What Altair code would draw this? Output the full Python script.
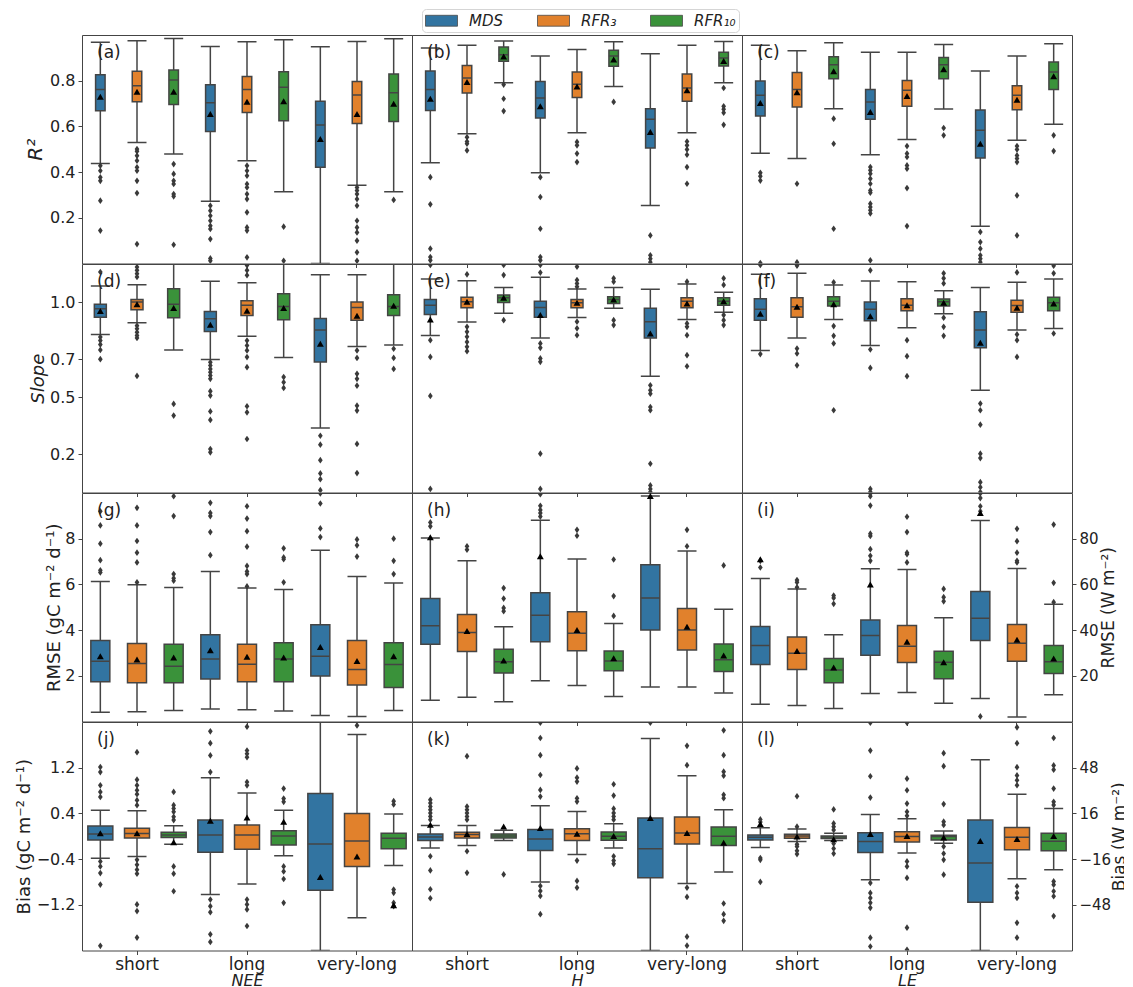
import altair as alt
import pandas as pd

FONT = "DejaVu Sans"
LINE = "#444444"

GAPS = ["short", "long", "very-long"]
METHODS = ["MDS", "RFR₃", "RFR₁₀"]
COLORS = ["#3274A1", "#E1812C", "#3A923A"]
VARS = ["NEE", "H", "LE"]
SLOTS = [g + "|" + m for g in GAPS for m in METHODS]
LABELS = [["(a)", "(b)", "(c)"], ["(d)", "(e)", "(f)"], ["(g)", "(h)", "(i)"], ["(j)", "(k)", "(l)"]]

# box stats per slot: (whisker_low, q1, median, q3, whisker_high, mean)
# slot order: short MDS, short RFR3, short RFR10, long MDS, ..., very-long RFR10
R2_NEE = [(0.438, 0.669, 0.762, 0.826, 0.968, 0.730), (0.530, 0.708, 0.778, 0.841, 0.975, 0.752),
          (0.479, 0.696, 0.803, 0.847, 0.985, 0.752), (0.272, 0.578, 0.704, 0.782, 0.950, 0.654),
          (0.450, 0.661, 0.762, 0.818, 0.971, 0.708), (0.314, 0.625, 0.771, 0.839, 0.979, 0.710),
          (0.0, 0.421, 0.606, 0.710, 0.949, 0.545), (0.342, 0.613, 0.737, 0.797, 0.972, 0.654),
          (0.314, 0.621, 0.747, 0.829, 0.984, 0.699)]
R2_NEE_OUT = [[0.428, 0.406, 0.377, 0.362, 0.275, 0.144],
              [0.501, 0.491, 0.472, 0.450, 0.421, 0.406, 0.362, 0.308, 0.085],
              [0.435, 0.392, 0.362, 0.348, 0.304, 0.294, 0.082],
              [0.253, 0.231, 0.209, 0.187, 0.165, 0.151, 0.107, 0.022, 0.012],
              [0.428, 0.406, 0.384, 0.348, 0.333, 0.304, 0.282, 0.224, 0.158, 0.144, 0.027],
              [0.161, 0.012], [],
              [0.333, 0.319, 0.304, 0.282, 0.253, 0.187, 0.158, 0.136, 0.100, 0.049, 0.012],
              [0.278]]
R2_H = [(0.441, 0.670, 0.761, 0.842, 0.943, 0.721), (0.568, 0.746, 0.812, 0.866, 0.955, 0.794),
        (0.791, 0.885, 0.914, 0.947, 0.974, 0.906), (0.397, 0.637, 0.724, 0.797, 0.908, 0.688),
        (0.572, 0.727, 0.785, 0.838, 0.936, 0.775), (0.775, 0.863, 0.908, 0.933, 0.971, 0.893),
        (0.254, 0.505, 0.631, 0.677, 0.918, 0.575), (0.572, 0.710, 0.768, 0.829, 0.955, 0.758),
        (0.791, 0.864, 0.899, 0.925, 0.972, 0.886)]
R2_H_OUT = [[0.378, 0.259, 0.065, 0.028, 0.014], [0.553, 0.534, 0.524, 0.495], [0.783, 0.721, 0.667],
            [0.378, 0.291, 0.152, 0.028, 0.014], [0.532, 0.517, 0.481, 0.444], [0.707],
            [0.123, 0.036, 0.021, 0.006], [0.534, 0.517, 0.499, 0.476, 0.422, 0.349],
            [0.768, 0.688, 0.675, 0.660, 0.607]]
R2_LE = [(0.483, 0.645, 0.736, 0.799, 0.955, 0.702), (0.459, 0.685, 0.761, 0.836, 0.931, 0.750),
         (0.677, 0.809, 0.870, 0.905, 0.966, 0.841), (0.476, 0.631, 0.707, 0.761, 0.925, 0.663),
         (0.543, 0.688, 0.758, 0.801, 0.925, 0.733), (0.676, 0.809, 0.870, 0.901, 0.958, 0.850),
         (0.163, 0.462, 0.583, 0.672, 0.842, 0.524), (0.539, 0.673, 0.736, 0.778, 0.908, 0.717),
         (0.609, 0.762, 0.838, 0.882, 0.962, 0.820)]
R2_LE_OUT = [[0.397, 0.382, 0.363, 0.002], [0.349, 0.005], [0.634, 0.524, 0.152],
             [0.422, 0.408, 0.393, 0.371, 0.349, 0.320, 0.310, 0.262, 0.247, 0.233, 0.219, 0.014],
             [0.514, 0.481, 0.466, 0.429, 0.415, 0.330, 0.164], [0.593, 0.561],
             [0.138, 0.094, 0.065, 0.036, 0.021, 0.006],
             [0.514, 0.499, 0.473, 0.459, 0.444, 0.298, 0.123], [0.561, 0.492]]

SLOPE_NEE = [(0.830, 0.921, 0.965, 0.988, 1.084, 0.953), (0.891, 0.960, 1.000, 1.014, 1.091, 0.988),
             (0.748, 0.918, 0.988, 1.070, 1.200, 0.969), (0.698, 0.846, 0.912, 0.951, 1.109, 0.881),
             (0.821, 0.930, 0.983, 1.007, 1.102, 0.954), (0.709, 0.907, 0.977, 1.044, 1.200, 0.969),
             (0.339, 0.685, 0.853, 0.914, 1.144, 0.781), (0.767, 0.905, 0.972, 1.000, 1.144, 0.928),
             (0.774, 0.930, 0.977, 1.039, 1.200, 0.981)]
SLOPE_NEE_OUT = [[0.816, 0.798, 0.777, 0.749, 0.700, 1.158],
                 [0.876, 0.860, 0.842, 0.825, 0.812, 0.612, 1.132, 1.149, 1.167, 1.184],
                 [0.465, 0.404],
                 [0.684, 0.667, 0.649, 0.632, 0.614, 0.597, 0.532, 0.509, 0.426, 0.381, 0.228, 0.211],
                 [0.798, 0.772, 0.746, 0.711, 0.658, 0.453, 0.421, 0.281, 1.141, 1.167, 1.193],
                 [0.606, 0.579, 0.549],
                 [0.298, 0.251, 0.170, 0.100, 0.070, 0.012],
                 [0.746, 0.707, 0.623, 0.597, 0.561, 0.456, 0.430, 0.255, 0.102],
                 [0.755, 0.707, 0.649]]
SLOPE_H = [(0.825, 0.935, 0.984, 1.014, 1.121, 0.909), (0.895, 0.970, 1.002, 1.026, 1.112, 1.002),
           (0.942, 0.998, 1.023, 1.037, 1.076, 1.023), (0.812, 0.921, 0.972, 1.005, 1.130, 0.932),
           (0.919, 0.970, 0.996, 1.014, 1.069, 0.996), (0.967, 0.993, 1.014, 1.028, 1.076, 1.014),
           (0.610, 0.812, 0.897, 0.967, 1.067, 0.835), (0.909, 0.970, 1.005, 1.023, 1.095, 0.993),
           (0.947, 0.984, 1.005, 1.023, 1.051, 1.005)]
SLOPE_H_OUT = [[0.800, 0.712, 0.507, 0.019, 1.195], [0.870, 0.844, 0.818, 0.791, 0.765, 0.742, 1.146],
               [0.905, 1.142, 1.195], [0.783, 0.760, 0.704, 0.686, 0.204, 0.019, 1.155, 1.195],
               [0.897, 0.862, 0.826, 1.116, 1.098, 1.081, 1.186], [0.905, 0.879, 1.125, 1.107],
               [0.563, 0.537, 0.519, 0.449, 0.432, 0.151, 0.037, 0.019, 0.002],
               [0.888, 0.870, 0.826, 0.721, 0.663, 1.107], [0.932, 0.905, 0.879, 1.125, 1.090]]
SLOPE_LE = [(0.746, 0.904, 0.963, 1.018, 1.146, 0.939), (0.811, 0.921, 0.976, 1.023, 1.151, 0.976),
            (0.909, 0.979, 1.005, 1.028, 1.090, 0.988), (0.772, 0.902, 0.962, 1.000, 1.111, 0.926),
            (0.865, 0.954, 0.984, 1.018, 1.107, 0.984), (0.939, 0.979, 1.002, 1.016, 1.060, 0.996),
            (0.537, 0.760, 0.853, 0.949, 1.076, 0.786), (0.854, 0.946, 0.982, 1.009, 1.104, 0.970),
            (0.861, 0.954, 0.996, 1.026, 1.121, 0.993)]
SLOPE_LE_OUT = [[0.727, 1.195], [0.756, 0.730, 0.668, 1.191], [0.874, 0.823, 0.783, 0.432, 1.104],
                [0.751, 0.654, 0.019, 0.002, 1.167], [0.800, 0.716, 0.611],
                [0.918, 0.870, 0.823, 1.151, 1.125, 1.098],
                [0.467, 0.432, 0.356, 0.204, 0.181, 0.054, 0.028, 0.002],
                [0.830, 0.800, 0.712, 1.156], [0.835, 1.191, 1.151]]

RMSE_NEE = [(0.41, 1.74, 2.64, 3.55, 6.13, 2.86), (0.43, 1.70, 2.54, 3.41, 5.98, 2.71),
            (0.48, 1.70, 2.42, 3.38, 5.86, 2.80), (0.55, 1.86, 2.73, 3.80, 6.57, 3.12),
            (0.51, 1.74, 2.51, 3.38, 5.84, 2.83), (0.46, 1.74, 2.74, 3.45, 5.78, 2.80),
            (0.26, 1.99, 2.86, 4.23, 7.49, 3.26), (0.22, 1.60, 2.28, 3.55, 6.35, 2.65),
            (0.48, 1.49, 2.49, 3.45, 6.06, 2.86)]
RMSE_NEE_OUT = [[6.52, 6.62, 7.06, 7.78, 8.58, 9.20], [6.09, 6.96, 7.39, 7.90, 8.58, 9.35],
                [6.16, 6.27, 6.45, 8.99, 9.86], [7.28, 8.29, 8.99, 9.13, 9.57],
                [5.91, 6.45, 6.57, 6.81, 7.65, 8.33, 8.88, 9.42], [6.09, 7.10, 7.18, 7.58],
                [8.07, 8.45, 9.54, 9.98], [7.22, 7.71, 7.97], [6.45, 7.03, 8.0]]
RMSE_H = [(9.3, 33.8, 41.9, 53.8, 80.3, 80.6), (10.6, 30.6, 39.0, 46.8, 70.4, 39.6),
          (8.6, 21.2, 26.2, 31.6, 41.5, 26.7), (17.8, 34.9, 46.5, 56.4, 88.1, 72.3),
          (15.8, 31.0, 38.6, 48.0, 71.1, 40.0), (10.9, 22.2, 26.5, 30.9, 42.9, 27.7),
          (15.1, 40.0, 54.1, 68.6, 98.7, 98.7), (15.1, 31.3, 40.0, 49.4, 74.6, 41.5),
          (12.5, 21.9, 27.0, 33.9, 49.1, 28.9)]
RMSE_H_OUT = [[87.1, 85.4], [76.7, 75.2], [58.4, 53.8, 49.7, 48.3], [94.4, 92.6, 91.2, 89.7, 99.5],
              [83.9, 81.3], [70.9, 54.9, 46.2], [], [83.9, 76.7], [68.3]]
RMSE_LE = [(7.5, 24.9, 33.3, 41.6, 62.6, 71.0), (7.0, 22.8, 29.9, 37.0, 58.0, 30.9),
           (5.7, 17.0, 22.5, 27.6, 38.0, 23.6), (12.3, 29.0, 37.6, 44.4, 66.8, 60.0),
           (12.7, 25.8, 32.9, 42.0, 66.5, 34.9), (8.0, 18.7, 25.9, 30.7, 45.4, 25.9),
           (10.1, 35.5, 45.2, 56.9, 88.0, 91.3), (2.0, 26.4, 34.2, 42.5, 67.0, 35.8),
           (11.7, 21.0, 26.1, 33.3, 51.3, 27.6)]
RMSE_LE_OUT = [[70.3, 67.4], [61.9, 60.9, 58.7], [55.1, 54.1, 51.5],
               [70.3, 72.5, 75.4, 81.2, 82.2, 94.5, 98.6, 99.8], [69.6, 73.2, 73.9, 82.9, 89.6],
               [58.0, 54.4, 52.6], [92.0, 94.2, 97.8, 99.8, 2.2], [69.6, 70.3, 73.9, 78.9, 84.3],
               [86.2, 60.7, 52.2]]

BIAS_NEE = [(-0.383, -0.064, 0.040, 0.179, 0.457, 0.052), (-0.354, -0.030, 0.050, 0.140, 0.447, 0.052),
            (-0.139, -0.024, 0.023, 0.069, 0.185, -0.104), (-1.021, -0.279, 0.023, 0.283, 1.026, 0.271),
            (-0.835, -0.227, 0.023, 0.197, 0.759, 0.330), (-0.342, -0.151, 0.005, 0.098, 0.457, 0.255),
            (-2.0, -0.946, -0.134, 0.747, 2.0, -0.713), (-1.426, -0.528, -0.081, 0.399, 1.779, -0.354),
            (-0.511, -0.221, -0.035, 0.052, 0.388, -1.206)]
BIAS_NEE_OUT = [[1.211, 1.124, 0.892, 0.776, 0.689, -0.441, -0.528, -0.644, -0.846, -1.919],
                [1.472, 0.991, 0.892, 0.805, 0.736, 0.631, 0.544, -0.412, -0.499, -0.586, -0.656,
                 -1.194, -1.310, -1.774],
                [0.776, 0.544, 0.486, 0.428, 0.341, 0.283, -0.528, -0.656, -0.963],
                [1.837, 1.629, 1.414, 1.124, -1.108, -1.224, -1.329, -1.716, -1.850],
                [1.918, 1.501, 1.443, 1.385, 0.950, 0.892, -1.108, -1.194, -1.281, -1.571],
                [0.834, 0.660, 0.602, -0.528, -0.615, -0.748, -1.166],
                [], [1.94], [0.614, 0.556, -0.934, -0.991, -1.166, -1.224]]
BIAS_H = [(-8.2, -3.0, -0.5, 1.6, 7.6, 8.1), (-6.5, -1.2, 1.2, 2.8, 7.6, 1.6),
          (-3.0, -1.2, 0.2, 1.6, 4.2, 6.9), (-32.0, -10.0, -1.9, 4.8, 21.3, 5.8),
          (-12.8, -3.0, 1.8, 5.3, 17.4, 1.8), (-8.2, -2.8, 0.0, 3.0, 8.8, 0.2),
          (-80.0, -29.0, -8.8, 12.7, 68.4, 12.7), (-33.0, -5.4, 2.3, 13.4, 42.4, 2.3),
          (-25.1, -6.5, 0.0, 6.5, 18.5, -4.6)]
BIAS_H_OUT = [[25.5, 23.2, 20.8, 18.5, 16.2, 13.9, 11.6, -14.0, -23.9, -37.1, -43.4],
              [56.1, 20.8, 18.5, 16.2, 13.9, 11.6, -10.5, -25.6], [-26.7],
              [79.5, 68.8, 56.8, 42.9, 32.4, 27.8, -34.8, -38.3, -41.8, -54.6],
              [47.5, 41.0, 38.3, 26.6, 24.3, -17.0, -31.3, -36.0],
              [36.4, 28.5, 19.3, 16.2, 13.9, 11.6, -14.0, -17.0, -19.3],
              [79.5], [63.3, 49.8, -36.0, -42.5, -70.3, -76.6],
              [74.2, 56.8, 45.2, 42.4, 29.0, 26.6, -47.1, -54.6, -59.2]]
BIAS_LE = [(-7.9, -2.6, -0.7, 0.9, 6.0, 8.6), (-3.7, -1.4, 0.2, 1.4, 5.1, -0.2),
           (-3.0, -1.6, -0.5, 0.2, 2.1, -2.1), (-30.4, -11.4, -3.7, 2.5, 15.3, 1.6),
           (-11.8, -4.0, -0.2, 3.2, 12.3, 0.2), (-4.9, -2.6, -0.2, 0.7, 3.7, -0.9),
           (-80.0, -46.2, -18.8, 11.3, 53.6, -3.3), (-29.7, -9.5, -0.7, 6.2, 29.4, -1.9),
           (-23.4, -10.2, -3.5, 2.1, 19.4, 0.2)]
BIAS_LE_OUT = [[11.8, 9.9, -15.3, -16.5, -32.0], [28.0, 6.7, -5.6, -7.2, -10.2, -12.5],
               [18.8, 9.0, 6.7, 4.4, -5.1, -8.6, -12.1],
               [79.5, 60.0, 42.0, 27.1, -32.7, -39.7, -43.2, -46.6, -50.1, -71.0, -77.2],
               [79.5, 40.3, 32.2, 22.9, 17.1, 14.3, -17.6, -21.1, -29.2, -64.0, -79.5],
               [58.2, 49.1, 22.5, 10.2, 7.9, -7.2, -12.1, -16.5, -26.9], [],
               [76.3, 65.2, 48.4, 42.6, 39.2, 35.7, -35.0, -39.7, -43.2, -60.6, -71.0],
               [68.8, 49.6, 46.6, 33.4, 24.1, 21.8, -31.6, -33.9, -38.5, -42.0, -55.9]]

STATS = [[R2_NEE, R2_H, R2_LE], [SLOPE_NEE, SLOPE_H, SLOPE_LE],
         [RMSE_NEE, RMSE_H, RMSE_LE], [BIAS_NEE, BIAS_H, BIAS_LE]]
OUTS = [[R2_NEE_OUT, R2_H_OUT, R2_LE_OUT], [SLOPE_NEE_OUT, SLOPE_H_OUT, SLOPE_LE_OUT],
        [RMSE_NEE_OUT, RMSE_H_OUT, RMSE_LE_OUT], [BIAS_NEE_OUT, BIAS_H_OUT, BIAS_LE_OUT]]

# per-row axis settings
DOM_LEFT = [[0, 1.0], [0, 1.2], [0, 10], [-2, 2]]
DOM_RIGHT = [[0, 1.0], [0, 1.2], [0, 100], [-80, 80]]
TICKS_LEFT = [[0.2, 0.4, 0.6, 0.8], [0.2, 0.5, 0.7, 1.0], [2, 4, 6, 8], [-1.2, -0.4, 0.4, 1.2]]
TICKS_RIGHT = [None, None, [20, 40, 60, 80], [-48, -16, 16, 48]]
FMT_LEFT = [".1f", ".1f", "d", ".1f"]
TITLE_LEFT = ["R²", "Slope", "RMSE (gC m⁻² d⁻¹)", "Bias (gC m⁻² d⁻¹)"]
TITLE_RIGHT = [None, None, "RMSE (W m⁻²)", "Bias (W m⁻²)"]
STYLE_LEFT = ["italic", "italic", "normal", "normal"]
TSIZE_LEFT = [20, 18, 18, 18]
EXT_LEFT = [35, 33, 17, 47]
EXT_RIGHT = [0, 0, 26, 38]
TPAD_RIGHT = [0, 0, 2, 1]
BOXW = [9.5, 12, 19, 25]
CAPW = 19
PW, PH = 330, 228.5

COLOR_LEGEND = alt.Legend(
    title=None, orient="none", legendX=340, legendY=-26, direction="horizontal",
    symbolType="M-1,-0.68H3V0.68H-1Z", symbolSize=256, symbolStrokeColor="#4a4a4a",
    symbolStrokeWidth=0.8, symbolOpacity=1, labelFontSize=15, labelFontStyle="italic",
    labelFont=FONT, labelColor="#222", labelOffset=27, columnPadding=31,
    strokeColor="#d5d5d5", fillColor="white", cornerRadius=4, padding=3)

OUT_SHAPE = "M0,-1L0.7,0L0,1L-0.7,0Z"


def x_enc(r, c):
    kw = dict(values=[SLOTS[1], SLOTS[4], SLOTS[7]], labelExpr="split(datum.value, '|')[0]",
              ticks=True, tickSize=4, domain=False, labelAngle=0, grid=False)
    if r == 3:
        kw.update(labels=True, title=VARS[c], labelFontSize=17, titleFontSize=16,
                  titleFontStyle="italic", labelPadding=2, titlePadding=0)
    else:
        kw.update(labels=False, title=None)
    return alt.X("slot:N", scale=alt.Scale(domain=SLOTS, paddingInner=0, paddingOuter=0),
                 axis=alt.Axis(**kw))


def y_enc(field, r, c):
    dom = DOM_LEFT[r] if c == 0 else DOM_RIGHT[r]
    scale = alt.Scale(domain=dom, nice=False, zero=False)
    if c == 0:
        axis = alt.Axis(orient="left", values=TICKS_LEFT[r], format=FMT_LEFT[r],
                        title=TITLE_LEFT[r], titleFontStyle=STYLE_LEFT[r],
                        titleFontSize=TSIZE_LEFT[r], tickSize=4, labelFontSize=16,
                        labelPadding=3, minExtent=EXT_LEFT[r], maxExtent=EXT_LEFT[r],
                        titlePadding=2, grid=False, domain=False)
    elif c == 2 and TICKS_RIGHT[r] is not None:
        axis = alt.Axis(orient="right", values=TICKS_RIGHT[r], format="d",
                        title=TITLE_RIGHT[r], titleAngle=270, titleBaseline="top", tickSize=4,
                        titleFontSize=17, labelFontSize=15, labelPadding=3,
                        minExtent=EXT_RIGHT[r], maxExtent=EXT_RIGHT[r],
                        titlePadding=TPAD_RIGHT[r], grid=False, domain=False)
    else:
        axis = None
    return alt.Y(field + ":Q", scale=scale, axis=axis)


def make_panel(r, c):
    rows = []
    for i, (lo, q1, med, q3, hi, mn) in enumerate(STATS[r][c]):
        rows.append(dict(slot=SLOTS[i], method=METHODS[i % 3], lo=lo, q1=q1, med=med,
                         q3=q3, hi=hi, mean=mn))
    df = pd.DataFrame(rows)
    orows = [dict(slot=SLOTS[i], v=v) for i, lst in enumerate(OUTS[r][c]) for v in lst]
    odf = pd.DataFrame(orows, columns=["slot", "v"])
    X = x_enc(r, c)
    bw = BOXW[r]
    base = alt.Chart(df)
    whisk = base.mark_rule(color=LINE, strokeWidth=1.5, clip=True).encode(
        x=X, y=y_enc("lo", r, c), y2=alt.Y2("hi:Q"))
    box = base.mark_bar(width=bw, stroke=LINE, strokeWidth=1.5, clip=True, opacity=1).encode(
        x=X, y=y_enc("q1", r, c), y2=alt.Y2("q3:Q"),
        color=alt.Color("method:N", scale=alt.Scale(domain=METHODS, range=COLORS),
                        legend=COLOR_LEGEND))
    med = base.mark_tick(size=bw, thickness=1.5, color=LINE, clip=True, opacity=1).encode(
        x=X, y=y_enc("med", r, c))
    caplo = base.mark_tick(size=CAPW, thickness=1.5, color=LINE, clip=True, opacity=1).encode(
        x=X, y=y_enc("lo", r, c))
    caphi = base.mark_tick(size=CAPW, thickness=1.5, color=LINE, clip=True, opacity=1).encode(
        x=X, y=y_enc("hi", r, c))
    outl = alt.Chart(odf).mark_point(shape=OUT_SHAPE, filled=True, size=45, color="#3a3a3a",
                                     opacity=1, clip=True).encode(x=X, y=y_enc("v", r, c))
    mean = base.mark_point(shape="triangle-up", filled=True, size=48, color="black",
                           opacity=1, clip=True).encode(x=X, y=y_enc("mean", r, c))
    lab = alt.Chart(pd.DataFrame({"t": [LABELS[r][c]]})).mark_text(
        align="left", baseline="middle", fontSize=17, font=FONT, color="#222").encode(
        x=alt.value(15), y=alt.value(18), text="t:N")
    return alt.layer(whisk, box, med, caplo, caphi, outl, mean, lab).properties(
        width=PW, height=PH)


panels = [make_panel(r, c) for r in range(4) for c in range(3)]

chart = (
    alt.concat(*panels, columns=3, spacing=0, bounds="flush")
    .resolve_scale(x="independent", y="independent")
    .properties(padding={"left": 6, "top": 0, "right": -4, "bottom": 0})
    .configure_view(stroke="#444", strokeWidth=1)
    .configure_axis(labelFont=FONT, titleFont=FONT, labelColor="#222", titleColor="#222",
                    tickColor="#444", labelFontSize=16, titleFontSize=18,
                    titleFontWeight="normal")
    .configure_text(font=FONT)
)

chart.save("out.html", embed_options={"renderer": "svg", "actions": False})
